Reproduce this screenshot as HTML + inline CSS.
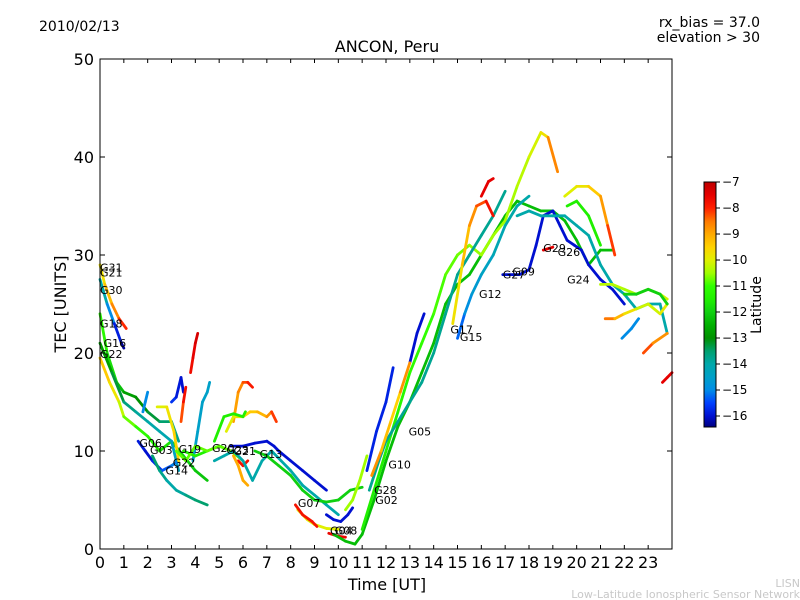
<!DOCTYPE html>
<html><head><meta charset="utf-8"><style>
body{margin:0;background:#fff;}
svg{display:block;font-family:"DejaVu Sans","Liberation Sans",sans-serif;}
</style></head><body>
<svg id="chart" width="800" height="600" viewBox="0 0 800 600" xmlns="http://www.w3.org/2000/svg">
<rect width="800" height="600" fill="#fff"/>
<defs>
<linearGradient id="cmap" x1="0" y1="1" x2="0" y2="0"></linearGradient>
</defs>
<text x="39" y="31" font-size="14">2010/02/13</text>
<text x="760" y="27" font-size="14" text-anchor="end">rx_bias = 37.0</text>
<text x="760" y="42" font-size="14" text-anchor="end">elevation &gt; 30</text>
<text x="387" y="52" font-size="16" text-anchor="middle">ANCON, Peru</text>
<text transform="translate(66,304) rotate(-90)" font-size="16" text-anchor="middle">TEC [UNITS]</text>
<text x="387" y="590" font-size="16" text-anchor="middle">Time [UT]</text>
<text x="800" y="587" font-size="11" fill="#c8c8c8" text-anchor="end">LISN</text>
<text x="800" y="598" font-size="11" fill="#c8c8c8" text-anchor="end">Low-Latitude Ionospheric Sensor Network</text>
<g id="marks"></g>
<g id="labels"></g>
<rect x="100" y="59" width="572" height="490" fill="none" stroke="#000" stroke-width="1"/>
<g id="axes"></g>
<rect x="704" y="182" width="12" height="245" fill="url(#cmap)" stroke="#000" stroke-width="1"/>
<g id="cbticks"></g>
<text transform="translate(761,305) rotate(-90)" font-size="14" text-anchor="middle">Latitude</text>
</svg>
<script>
const xTicks=[0,1,2,3,4,5,6,7,8,9,10,11,12,13,14,15,16,17,18,19,20,21,22,23];
const yTicks=[0,10,20,30,40,50];
const cbTicks=[-7,-8,-9,-10,-11,-12,-13,-14,-15,-16];
const times=[
[0,0.2,0.5,0.8,1.1],
[0,0.3,0.6,0.9,1.0],
[0,0.3,0.7,1,1.5,2,2.5,3,3.3],
[0,0.4,0.8,1,1.5,2,2.5,3,3.5,4,4.5],
[0,0.5,1,1.5,2,2.5,3,3.3],
[1.6,1.9,2.2,2.6,3,3.3],
[1.8,1.9,2.0],
[2.2,2.5,2.8,3.2,3.6,4,4.5],
[2.4,2.8,3.1,3.3],
[3.0,3.2,3.4,3.5],
[3.4,3.5,3.6],
[3.8,3.9,4.0,4.1],
[3.9,4.1,4.3,4.5,4.6],
[3.5,4,4.5,5,5.5],
[3.2,3.6,4,4.5,5,5.5,6],
[5.6,5.8,6.0,6.2,6.4],
[5.3,5.6,6,6.3,6.6,7,7.2,7.4],
[4.8,5.2,5.6,6,6.1],
[5.8,6,6.2],
[5.6,5.8,6,6.2],
[5.5,6,6.5,7,7.3,7.5],
[4.8,5.2,5.6,6,6.4,6.8,7.2,7.6,8,8.5,9,9.5,10],
[6.5,7,7.5,8,8.5,9,9.5,10,10.5,11],
[7.5,8,8.5,9,9.5],
[9.5,9.8,10.1,10.4,10.6],
[8.3,8.7,9,9.5,10],
[8.2,8.5,8.9,9.1],
[9.6,10,10.3],
[10.3,10.6,10.9,11.2],
[9.8,10.3,10.7,11,11.5,12,12.5,13,13.5,14,14.5,15,15.5,16,16.5,17,17.5,18,18.5,19,19.5,20,20.5,21,21.5],
[11,11.5,12,12.5,13,13.5,14,14.5,15,15.5,16,16.5,17,17.5,18,18.5,18.8,19.2],
[11.2,11.6,12,12.3],
[13,13.3,13.6],
[11.3,11.7,12,12.5,13,13.5,14,14.5,15,15.5,16,16.5,17],
[11.4,11.8,12.2,12.6,13],
[14.8,15.2,15.5,15.8,16.2,16.5],
[15,15.3,15.6,16,16.5,17,17.5,18],
[16,16.3,16.5],
[16.9,17.2,17.6,18,18.3,18.6,19,19.3,19.6,19.9,20.2,20.5,21,21.5,22],
[17.5,18,18.5,19,19.5,20,20.5,21,21.5,22,22.5,23,23.5,23.8],
[18.6,19.0],
[19.5,20,20.5,21,21.3,21.6],
[19.6,20,20.5,21],
[21,21.5,22,22.5,23,23.5,23.8],
[21.2,21.6,22,22.5,23,23.5,23.8],
[22.8,23.2,23.8],
[23.6,23.8,24],
[21.9,22.3,22.6],
[22,22.5,23,23.5,23.8]
];
const tecs=[
[29,27,25,23.5,22.5],
[27.5,25,23,21,20.5],
[24,20,17,16,15.5,14,13,13,11],
[19.5,17,15,13.5,12.5,11.5,10,11,9.5,8,7],
[21,18,15,14,13,12,11,8],
[11,10,9,8,8.5,9],
[14,15,16],
[9.5,8,7,6,5.5,5,4.5],
[14.5,14.5,12,9],
[15,15.5,17.5,16],
[13,15,16.5],
[18,19.5,21,22],
[9,12,15,16,17],
[10,9.5,10,10.5,10],
[10,9,10.5,10,10.5,10,9],
[13,16,17,17,16.5],
[12,13.5,13.5,14,14,13.5,14,13],
[11,13.5,13.8,13.5,14],
[9,8.5,9],
[9.5,8.5,7,6.5],
[10.5,10.5,10.8,11,10.5,10],
[9,9.5,10,9,7,9,10,9,8,6.5,5.5,4.5,3.5],
[10,9.5,8.5,7.5,6,5,4.8,5,6,6.3],
[10,9,8,7,6],
[3.5,3,2.8,3.5,4.2],
[4,3,2.5,2.1,2],
[4.5,3.5,2.8,2.3],
[1.6,1.3,1.2],
[4,5,7,9.5],
[1.5,0.8,0.5,1.5,5,9,12.5,15,18,21,25,27,28,30,32,34,35.5,35,34.5,34.5,33.5,31.5,29,30.5,30.5],
[2,6,10,14,18,21,24,28,30,31,30,32,33.5,37,40,42.5,42,38.5],
[8,12,15,18.5],
[19,22,24],
[6,9,11,13,15,17,20,24,28,30,32,34,36.5],
[7.5,10,13,16,19],
[23,29,33,35,35.5,34],
[21.5,24,26,28,30,33,35,36],
[36,37.5,37.8],
[28,28,28,28.5,31,34,34.5,33,31.5,31,30.5,29,27.5,26.5,25],
[34,34.5,34,34,34,33,32,29,27,26,24.5,25,25,22],
[30.5,30.8],
[36,37,37,36,33,30],
[35,35.5,34,31],
[27,27,26.5,26,26.5,26,25.5],
[23.5,23.5,24,24.5,25,24,25],
[20,21,22],
[17,17.5,18],
[21.5,22.5,23.5],
[26,26,26.5,26,25]
];
const lats=[
[-10,-9.5,-9,-8.3,-7.8],
[-13.5,-14.5,-15.5,-16.2,-16.4],
[-11,-11.5,-12,-12.5,-13,-13,-13.5,-13.5,-14],
[-9.2,-9.6,-10,-10.5,-11,-11.2,-11.5,-11.8,-12,-12,-12.3],
[-12.5,-13,-13.5,-13.8,-14,-14,-14.2,-14.5],
[-15.8,-16,-16,-15.5,-15.2,-15],
[-15,-15,-15],
[-13.5,-13.5,-14,-14,-13.8,-13.5,-13.5],
[-10,-10,-9.5,-9.5],
[-15.5,-15.8,-16,-16],
[-8.5,-8,-7.5],
[-7.8,-7.6,-7.4,-7.2],
[-14.5,-14.5,-14.5,-14.5,-14.5],
[-11.5,-11.5,-11.5,-11.5,-11.5],
[-10.8,-10.8,-10.8,-10.8,-10.8,-10.8,-10.8],
[-9,-8.8,-8.5,-8,-7.8],
[-10,-10,-9.8,-9.5,-9.3,-9,-8.5,-7.8],
[-11.5,-11.5,-11.5,-11.5,-11.5],
[-7.8,-7.8,-7.8],
[-9,-9,-9,-9],
[-16,-16,-16,-16,-16,-16],
[-14,-14,-14,-14,-14,-14,-14,-14,-14,-14,-14,-14,-14],
[-12,-12,-12,-12,-12,-12,-12,-12,-12,-12],
[-16,-16,-16,-16,-16],
[-16,-16,-16,-16,-16],
[-10,-10,-10,-10,-10],
[-7.8,-7.8,-7.8,-7.8],
[-7.6,-7.6,-7.6],
[-10.5,-10.5,-10.5,-10.5],
[-12.3,-12.3,-12.3,-12.3,-12.3,-12.3,-12.3,-12.3,-12.3,-12.3,-12.3,-12.3,-12.3,-12.3,-12.3,-12.3,-12.3,-12.3,-12.3,-12.3,-12.3,-12.3,-12.3,-12.3,-12.3],
[-11.5,-11.5,-11.5,-11.3,-11.2,-11,-11,-10.8,-10.8,-10.6,-10.5,-10.5,-10.5,-10.4,-10.2,-10,-9.5,-7.8],
[-15.8,-15.8,-15.8,-15.8],
[-16,-16,-16],
[-13.8,-13.8,-13.8,-13.8,-13.8,-13.8,-13.8,-13.8,-13.8,-13.8,-13.8,-13.8,-13.8],
[-8.5,-9,-9.5,-9.5,-8],
[-10,-9.5,-9,-8.5,-8,-7.5],
[-15.5,-15,-14.8,-14.5,-14.3,-14,-14,-14],
[-7.5,-7.5,-7.5],
[-16,-16,-16,-16,-16,-16,-16,-16,-16,-16,-16,-16,-16,-16,-16],
[-14,-14,-14,-14,-14,-14,-14,-14,-14,-14,-14,-14,-14,-14],
[-7.5,-7.5],
[-10,-10,-9.6,-9.2,-8.5,-7.8],
[-11.5,-11.5,-11.5,-11.5],
[-10.3,-10.3,-10.4,-10.5,-10.5,-10.3,-10],
[-8.2,-8.8,-9.5,-10,-10.3,-10,-9.8],
[-8,-8.5,-9],
[-7.5,-7.5,-7.5],
[-15,-15,-15],
[-12,-12,-12,-12,-12]
];
const labelText=["G31","G21","G30","G18","G16","G22","G06","G03","G19","G14","G22","G20","G23","G21","G13","G07","G04","G08","G05","G10","G28","G02","G17","G15","G12","G09","G27","G29","G26","G24"];
const labelT=[0,0,0,0,0.15,0,1.65,2.1,3.3,2.75,3.05,4.7,5.3,5.6,6.7,8.3,9.65,9.85,12.95,12.1,11.5,11.55,14.7,15.1,15.9,17.3,16.9,18.6,19.2,19.6];
const labelTec=[28.3,27.8,26,22.6,20.6,19.5,10.4,9.7,9.8,7.6,8.4,9.9,9.7,9.6,9.3,4.3,1.5,1.5,11.6,8.2,5.6,4.6,22,21.2,25.6,27.9,27.6,30.3,29.9,27.1];

const X=t=>100+t*(572/24);
const Y=v=>549-v*(490/50);
const cbY=l=>182+(-7-l)*26;
const NS="http://www.w3.org/2000/svg";
// colour stops (latitude -> rgb)
const stopLat=[-16.42,-16,-15.5,-15,-14.5,-14,-13.5,-13,-12.5,-12,-11.5,-11,-10.5,-10,-9.5,-9,-8.5,-8,-7.5,-7];
const stopCol=[[0,0,128],[0,16,208],[0,64,255],[0,140,230],[0,160,200],[0,168,170],[0,160,110],[0,144,0],[0,176,0],[16,208,16],[32,240,0],[48,255,0],[160,255,0],[224,240,0],[255,210,0],[255,170,0],[255,120,0],[255,32,0],[230,0,0],[190,0,0]];
function cmap(lat){
  if(lat<=stopLat[0])return `rgb(${stopCol[0]})`;
  for(let i=0;i<stopLat.length-1;i++){
    if(lat<=stopLat[i+1]){
      const f=(lat-stopLat[i])/(stopLat[i+1]-stopLat[i]);
      const c=stopCol[i].map((v,k)=>Math.round(v+(stopCol[i+1][k]-v)*f));
      return `rgb(${c})`;
    }
  }
  return `rgb(${stopCol[stopCol.length-1]})`;
}
const grad=document.getElementById('cmap');
stopLat.forEach((l,i)=>{
  const s=document.createElementNS(NS,'stop');
  s.setAttribute('offset',((l+16.42)/9.42).toFixed(4));
  s.setAttribute('stop-color',`rgb(${stopCol[i]})`);
  grad.appendChild(s);
});
const marks=document.getElementById('marks');
times.forEach((ts,i)=>{
  const g=document.createElementNS(NS,'g');
  
  
  for(let j=0;j<ts.length-1;j++){
    const ln=document.createElementNS(NS,'line');
    
    
    ln.setAttribute('x1',X(ts[j]));ln.setAttribute('y1',Y(tecs[i][j]));
    ln.setAttribute('x2',X(ts[j+1]));ln.setAttribute('y2',Y(tecs[i][j+1]));
    ln.setAttribute('stroke',cmap((lats[i][j]+lats[i][j+1])/2));
    ln.setAttribute('stroke-width','2.8');ln.setAttribute('stroke-linecap','round');
    g.appendChild(ln);
  }
  marks.appendChild(g);
});
const labels=document.getElementById('labels');
labelText.forEach((s,i)=>{
  const t=document.createElementNS(NS,'text');
  
  
  t.setAttribute('x',X(labelT[i]));t.setAttribute('y',Y(labelTec[i]));
  t.setAttribute('font-size','11');t.textContent=s;labels.appendChild(t);
});
const axes=document.getElementById('axes');
function mk(tag,attrs,txt){const e=document.createElementNS(NS,tag);for(const k in attrs)e.setAttribute(k,attrs[k]);if(txt!==undefined)e.textContent=txt;return e;}
xTicks.forEach(t=>{
  const a=mk('line',{x1:X(t),x2:X(t),y1:549,y2:545,stroke:'#000'});
  axes.appendChild(a);
  const b=mk('line',{x1:X(t),x2:X(t),y1:59,y2:63,stroke:'#000'});
  axes.appendChild(b);
  const l=mk('text',{x:X(t),y:568,'font-size':16,'text-anchor':'middle'},String(t));
  axes.appendChild(l);
});
yTicks.forEach(v=>{
  const a=mk('line',{x1:100,x2:105,y1:Y(v),y2:Y(v),stroke:'#000'});
  axes.appendChild(a);
  const b=mk('line',{x1:667,x2:672,y1:Y(v),y2:Y(v),stroke:'#000'});
  axes.appendChild(b);
  const l=mk('text',{x:94,y:Y(v)+6,'font-size':16,'text-anchor':'end'},String(v));
  axes.appendChild(l);
});
const cbt=document.getElementById('cbticks');
cbTicks.forEach(v=>{
  const a=mk('line',{x1:716,x2:720,y1:cbY(v),y2:cbY(v),stroke:'#000'});
  cbt.appendChild(a);
  const l=mk('text',{x:722,y:cbY(v)+4,'font-size':12},String(v).replace('-','\u2212'));
  cbt.appendChild(l);
});
</script>
</body></html>
